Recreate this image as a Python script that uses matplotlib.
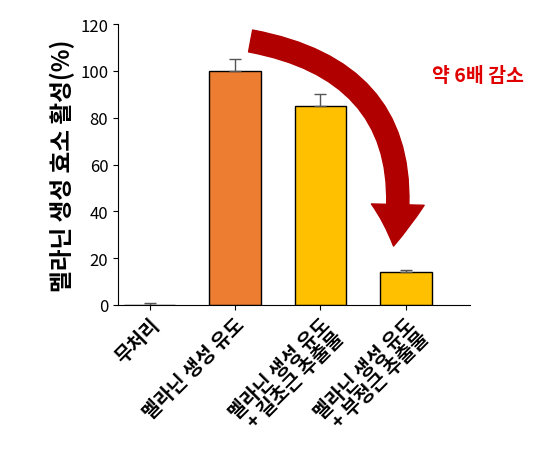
import matplotlib
matplotlib.use("Agg")
import matplotlib.pyplot as plt
from matplotlib.patches import FancyArrowPatch

plt.rcParams['font.family'] = ['Noto Sans CJK KR', 'DejaVu Sans']

labels = ["무처리", "멜라닌 생성 유도", "멜라닌 생성 유도\n+ 길초근 추출물", "멜라닌 생성 유도\n+ 부정근 추출물"]
values = [0, 100, 85, 14]
errors = [1, 5, 5, 1]
colors = ["#ED7D31", "#ED7D31", "#FFC000", "#FFC000"]

fig = plt.figure(figsize=(5.49, 4.56), dpi=100)
ax = fig.add_axes([0.215, 0.329, 0.641, 0.616])
x = range(len(values))
ax.bar(x, values, width=0.6, color=colors, edgecolor="black", linewidth=1.0,
       yerr=[[0] * len(errors), errors],
       error_kw=dict(ecolor="#555555", capsize=4, elinewidth=1))
ax.set_ylim(0, 120)
ax.set_xlim(-0.37, 3.75)
ax.set_yticks(range(0, 121, 20))
ax.tick_params(axis='y', labelsize=12)
ax.set_xticks(list(x))
ax.set_xticklabels(labels, rotation=45, ha='right', rotation_mode='anchor',
                   fontsize=14, fontweight='bold', linespacing=1.0)
ax.spines['top'].set_visible(False)
ax.spines['right'].set_visible(False)
ax.set_ylabel("멜라닌 생성 효소 활성(%)", fontsize=17, fontweight='bold')

arrow = FancyArrowPatch((1.15, 113), (2.85, 24), connectionstyle="arc3,rad=-0.5",
                        arrowstyle="simple,head_width=38,head_length=30,tail_width=16",
                        color="#B00000", mutation_scale=1, clip_on=False)
ax.add_patch(arrow)
fig.text(0.87, 0.82, "약 6배 감소", color="#E00000", fontsize=14, fontweight='bold', ha='center')

fig.savefig("out.png", dpi=100)
